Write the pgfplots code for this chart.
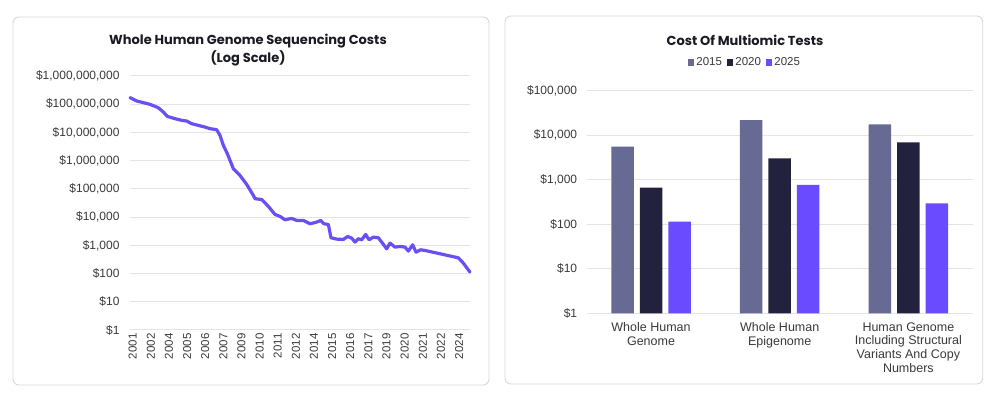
\documentclass[border=0pt]{standalone}
\usepackage{fontspec}
\setmainfont{Liberation Sans}
\newfontfamily\titlefont{Poppins}
\usepackage{pgfplots}
\pgfplotsset{compat=1.18}
\definecolor{linec}{HTML}{6B4FF5}
\definecolor{cA}{HTML}{676B94}
\definecolor{cB}{HTML}{22223E}
\definecolor{cC}{HTML}{6B4BFF}
\definecolor{gridc}{HTML}{E3E3E8}
\definecolor{panel}{HTML}{D9D9DD}
\definecolor{txt}{HTML}{3A3A3A}
\definecolor{ttl}{HTML}{1A1A24}
\begin{document}
\begin{tikzpicture}[x=1pt,y=1pt]
\fill[white] (0,0) rectangle (999,409);
\draw[panel, line width=0.9pt, rounded corners=6pt] (13,24) rectangle (489,392);
\draw[panel, line width=0.9pt, rounded corners=6pt] (505,25) rectangle (982.7,393);
\node[font=\titlefont\bfseries\fontsize{13}{15}\selectfont, text=ttl] at (248,368) {Whole Human Genome Sequencing Costs};
\node[font=\titlefont\bfseries\fontsize{13}{15}\selectfont, text=ttl] at (248,350.7) {(Log Scale)};
\node[font=\titlefont\bfseries\fontsize{13}{15}\selectfont, text=ttl] at (745,368.3) {Cost Of Multiomic Tests};

\begin{axis}[at={(130pt,79pt)}, anchor=south west, width=340pt, height=254pt, scale only axis,
  ymode=log, ymin=1, ymax=1e9, xmin=390, xmax=1410,
  ytick={1e0,1e1,1e2,1e3,1e4,1e5,1e6,1e7,1e8,1e9},
  yticklabels={\$1,\$10,\$100,{\$1,000},{\$10,000},{\$100,000},{\$1,000,000},{\$10,000,000},{\$100,000,000},{\$1,000,000,000}},
  xtick={395,449.4,503.8,558.2,612.6,667,721.4,775.8,830.2,884.6,939,993.4,1047.8,1102.2,1156.6,1211,1265.4,1319.8,1374.2},
  xticklabels={2001,2002,2004,2005,2006,2007,2009,2010,2011,2012,2014,2015,2016,2017,2019,2020,2021,2022,2024},
  xticklabel style={rotate=90, anchor=east, font=\fontsize{11.5}{12}\selectfont, text=txt, yshift=-1pt},
  yticklabel style={font=\fontsize{12}{13}\selectfont, text=txt, xshift=-7pt},
  major tick length=0pt, yminorticks=false, ytick pos=left, xtick pos=bottom, axis line style={draw=none},
  ymajorgrids, grid style={gridc, line width=1pt}, clip=false]
\addplot[linec, line width=3.2pt, line join=round, line cap=round] coordinates {
(390,1.71e8) (410,1.30e8) (450,9.9e7) (475,7.5e7) (490,5.3e7) (502,3.7e7) (525,3.07e7) (545,2.68e7) (560,2.54e7) (575,2.04e7) (595,1.78e7) (615,1.55e7) (630,1.36e7) (650,1.25e7) (660,7.9e6) (670,3.5e6) (682,1.76e6) (700,5.2e5) (720,3.0e5) (740,1.44e5) (760,5.9e4) (765,4.5e4) (785,4.2e4) (805,2.4e4) (825,1.24e4) (840,1.06e4) (855,8040) (875,8970) (890,7620) (910,7620) (930,5800) (950,6650) (962,7620) (972,5800) (985,5500) (993,1850) (1010,1660) (1030,1615) (1043,2060) (1055,1800) (1065,1300) (1075,1710) (1085,1570) (1097,2430) (1107,1570) (1120,1950) (1135,1850) (1145,1300) (1160,753) (1170,1200) (1185,863) (1200,912) (1215,863) (1225,622) (1238,1045) (1248,574) (1262,695) (1275,658) (1375,361) (1390,234) (1410,112)
};
\end{axis}

\begin{axis}[at={(586.7pt,95.7pt)}, anchor=south west, width=386pt, height=222.6pt, scale only axis,
  ymode=log, ymin=1, ymax=1e5, xmin=-0.5, xmax=2.5,
  ybar=6pt, bar width=22.5pt,
  ytick={1e0,1e1,1e2,1e3,1e4,1e5},
  yticklabels={\$1,\$10,\$100,{\$1,000},{\$10,000},{\$100,000}},
  xtick={0,1,2},
  xticklabels={{Whole Human\\Genome},{Whole Human\\Epigenome},{Human Genome\\Including Structural\\Variants And Copy\\Numbers}},
  xticklabel style={align=center, anchor=north, yshift=-5.5pt, font=\fontsize{12.5}{13.8}\selectfont, text=txt},
  yticklabel style={font=\fontsize{12}{13}\selectfont, text=txt, xshift=-6pt},
  major tick length=0pt, yminorticks=false, ytick pos=left, xtick pos=bottom, axis line style={draw=none},
  ymajorgrids, grid style={gridc, line width=1pt},
  legend columns=3,
  legend style={draw=none, fill=none, at={(0.41,1.126)}, anchor=center, font=\fontsize{11.5}{12}\selectfont, text=txt,
    /tikz/every even column/.append style={column sep=3pt}},
  legend image code/.code={\fill[#1] (0pt,-3.2pt) rectangle (6.4pt,3.2pt);}]
\addplot[fill=cA, draw=none] coordinates {(0,5530) (1,21900) (2,17500)};
\addplot[fill=cB, draw=none] coordinates {(0,661) (1,3030) (2,6900)};
\addplot[fill=cC, draw=none] coordinates {(0,114) (1,762) (2,295)};
\legend{2015,2020,2025}
\end{axis}
\end{tikzpicture}
\end{document}
